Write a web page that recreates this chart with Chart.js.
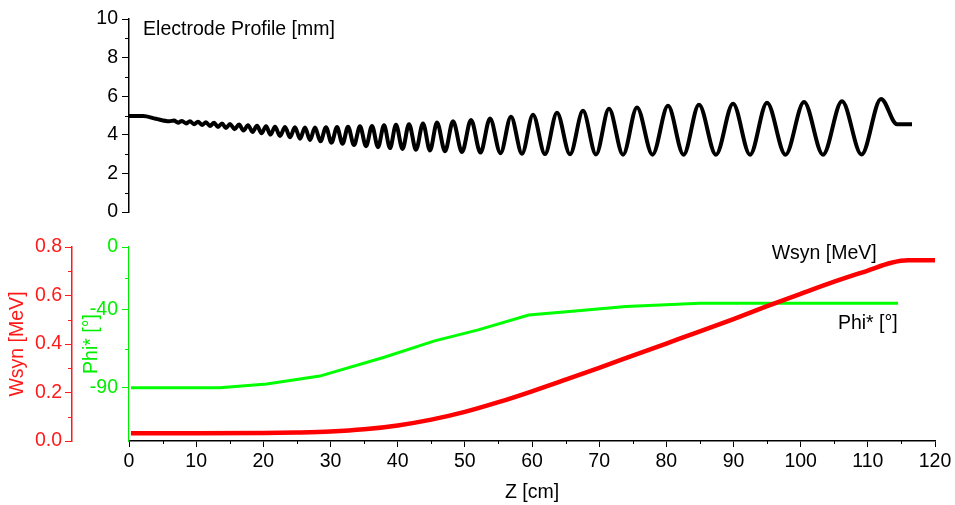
<!DOCTYPE html>
<html lang="en">
<head>
  <meta charset="UTF-8" />
  <title>Electrode Profile / Wsyn / Phi*</title>
  <script src="https://cdn.jsdelivr.net/npm/chart.js"></script>
  <style>
    body { margin: 0; background: #fff; }
    .wrap { position: relative; width: 955px; height: 505px; }
    .wrap canvas { position: absolute; left: 0; top: 0; }
  </style>
</head>
<body>
  <div class="wrap">
    <canvas id="profile" width="955" height="505"></canvas>
    <canvas id="beam" width="955" height="505"></canvas>
  </div>

  <script>
    // electrode profile: extrema (z in cm, radius in mm)
    const profileZ = [
      0, 2.1, 4.0, 6.0, 6.70, 7.30, 7.89, 8.49, 9.08, 9.68,
      10.27, 10.87, 11.46, 12.06, 12.66, 13.25, 13.85, 14.44, 15.04, 15.71,
      16.38, 17.05, 17.72, 18.39, 19.06, 19.73, 20.40, 21.07, 21.74, 22.48,
      23.23, 23.97, 24.71, 25.46, 26.20, 26.95, 27.69, 28.51, 29.33, 30.15,
      30.97, 31.79, 32.61, 33.50, 34.39, 35.29, 36.18, 37.07, 37.97, 38.86,
      39.75, 40.72, 41.69, 42.73, 43.77, 44.81, 45.86, 47.05, 48.24, 49.58,
      50.92, 52.33, 53.75, 55.31, 56.87, 58.51, 60.15, 61.93, 63.72, 65.66,
      67.59, 69.53, 71.46, 73.55, 75.63, 77.94, 80.25, 82.56, 84.86, 87.39,
      89.93, 92.46, 94.99, 97.74, 100.50, 103.32, 106.15, 109.06, 111.96, 114.34,
      116.58
    ];
    const profileMm = [
      4.97, 4.97, 4.83, 4.70, 4.74, 4.63, 4.72, 4.59, 4.70, 4.55,
      4.68, 4.51, 4.65, 4.46, 4.62, 4.41, 4.59, 4.35, 4.56, 4.29,
      4.53, 4.22, 4.50, 4.15, 4.47, 4.08, 4.44, 4.01, 4.42, 3.94,
      4.40, 3.87, 4.39, 3.80, 4.38, 3.73, 4.38, 3.66, 4.39, 3.59,
      4.40, 3.53, 4.42, 3.47, 4.44, 3.41, 4.46, 3.36, 4.49, 3.31,
      4.52, 3.27, 4.55, 3.23, 4.59, 3.19, 4.64, 3.15, 4.70, 3.11,
      4.77, 3.08, 4.85, 3.05, 4.94, 3.02, 5.04, 3.00, 5.14, 2.99,
      5.24, 2.98, 5.35, 2.97, 5.42, 2.97, 5.50, 2.97, 5.56, 2.97,
      5.61, 2.97, 5.66, 2.97, 5.70, 2.97, 5.74, 2.98, 5.86, 4.55,
      4.55
    ];

    // synchronous energy
    const wsynZ = [0.3, 10, 20, 25, 30, 35, 40, 45, 50, 55, 60, 65, 70, 75, 80, 85, 90, 95, 100, 105, 110, 113.5, 116, 120];
    const wsynMeV = [0.032, 0.032, 0.033, 0.035, 0.039, 0.048, 0.064, 0.088, 0.120, 0.160, 0.205, 0.253,
                     0.302, 0.352, 0.402, 0.452, 0.503, 0.556, 0.607, 0.657, 0.703, 0.735, 0.745, 0.745];

    // synchronous phase
    const phiZ = [0.3, 13.5, 20.5, 28.4, 38, 45.5, 52, 59.5, 66, 74, 85, 114.5];
    const phiDeg = [-90, -90, -87.5, -82.5, -70.5, -60, -53, -43.5, -41, -38, -36, -36];

    // ticks
    const profileMinor = [1, 3, 5, 7, 9];
    const zMinor = [5, 15, 25, 35, 45, 55, 65, 75, 85, 95, 105, 115];
    const wsynMinor = [0.1, 0.3, 0.5, 0.7];
    const phiTicks = [0, -40, -90];
    const phiMinor = [-20, -65];

    const RED = '#ff1a1a';
    const GREEN = '#00ee00';
    const FONT = { family: "'Liberation Sans', Arial, sans-serif", size: 19.5 };

    const pts = (xs, ys) => xs.map((x, i) => ({ x: x, y: ys[i] }));

    // short unlabeled ticks between the labeled ones
    function minorLayer(axes) {
      return {
        id: 'minorLayer',
        afterDraw(chart) {
          const ctx = chart.ctx;
          axes.forEach(a => {
            const s = chart.scales[a.id];
            ctx.save();
            ctx.strokeStyle = a.color;
            ctx.lineWidth = 1;
            ctx.beginPath();
            a.values.forEach(v => {
              const p = Math.round(s.getPixelForValue(v)) + 0.5;
              if (s.isHorizontal()) {
                ctx.moveTo(p, s.top);
                ctx.lineTo(p, s.top + a.len);
              } else {
                ctx.moveTo(s.right - a.len, p);
                ctx.lineTo(s.right, p);
              }
            });
            ctx.stroke();
            ctx.restore();
          });
        }
      };
    }

    // curve labels placed in data coordinates
    function noteLayer(items) {
      return {
        id: 'noteLayer',
        afterDraw(chart) {
          const ctx = chart.ctx;
          items.forEach(n => {
            ctx.save();
            ctx.font = FONT.size + 'px ' + FONT.family;
            ctx.fillStyle = n.color;
            ctx.textAlign = n.align;
            ctx.textBaseline = 'middle';
            ctx.fillText(n.text, chart.scales.x.getPixelForValue(n.x), chart.scales[n.axis].getPixelForValue(n.y));
            ctx.restore();
          });
        }
      };
    }

    new Chart(document.getElementById('profile'), {
      type: 'line',
      data: {
        datasets: [{
          data: pts(profileZ, profileMm),
          borderColor: '#000',
          borderWidth: 4,
          pointRadius: 0,
          cubicInterpolationMode: 'monotone',
          fill: false
        }]
      },
      options: {
        responsive: false,
        animation: false,
        devicePixelRatio: 1,
        layout: { padding: { left: 0, right: 20, top: 19, bottom: 293 } },
        plugins: { legend: { display: false }, tooltip: { enabled: false } },
        scales: {
          x: { type: 'linear', min: 0, max: 120, display: false },
          y: {
            min: 0, max: 10,
            ticks: { stepSize: 2, color: '#000', font: FONT, padding: 4 },
            grid: { drawOnChartArea: false, tickLength: 7, tickColor: '#000' },
            border: { color: '#000', width: 1.5 },
            afterFit(s) { s.width = 129; }
          }
        }
      },
      plugins: [
        minorLayer([{ id: 'y', values: profileMinor, len: 4, color: '#000' }]),
        noteLayer([{ text: 'Electrode Profile [mm]', x: 2.1, y: 9.43, axis: 'y', align: 'left', color: '#000' }])
      ]
    });

    new Chart(document.getElementById('beam'), {
      type: 'line',
      data: {
        datasets: [
          {
            label: 'Wsyn [MeV]',
            data: pts(wsynZ, wsynMeV),
            yAxisID: 'w',
            borderColor: '#ff0000',
            borderWidth: 4.5,
            pointRadius: 0,
            cubicInterpolationMode: 'monotone',
            fill: false
          },
          {
            label: 'Phi* [°]',
            data: pts(phiZ, phiDeg),
            yAxisID: 'p',
            borderColor: '#00ff00',
            borderWidth: 3,
            pointRadius: 0,
            tension: 0,
            fill: false
          }
        ]
      },
      options: {
        responsive: false,
        animation: false,
        devicePixelRatio: 1,
        layout: { padding: { left: 0, right: 20, top: 247, bottom: 0 } },
        plugins: { legend: { display: false }, tooltip: { enabled: false } },
        scales: {
          x: {
            type: 'linear', min: 0, max: 120, position: 'bottom',
            ticks: { stepSize: 10, color: '#000', font: FONT, padding: 3, maxRotation: 0 },
            grid: { drawOnChartArea: false, tickLength: 6, tickColor: '#000' },
            border: { color: '#000', width: 1.5 },
            title: { display: true, text: 'Z [cm]', color: '#000', font: FONT, padding: { top: 0, bottom: 0.3 } },
            afterFit(s) { s.height = 64; }
          },
          p: {
            position: 'left', weight: 0, min: -124, max: 0,
            afterBuildTicks(s) { s.ticks = phiTicks.map(v => ({ value: v })); },
            ticks: { color: GREEN, font: FONT, padding: 4 },
            grid: { drawOnChartArea: false, tickLength: 7, tickColor: GREEN },
            border: { color: GREEN, width: 1.2 },
            title: { display: true, text: 'Phi* [°]', color: GREEN, font: FONT, padding: { top: 8.3, bottom: 0 } },
            afterFit(s) { s.width = 57; }
          },
          w: {
            position: 'left', weight: 1, min: 0, max: 0.8,
            ticks: { stepSize: 0.2, color: RED, font: FONT, padding: 3, callback: v => v.toFixed(1) },
            grid: { drawOnChartArea: false, tickLength: 7, tickColor: RED },
            border: { color: RED, width: 1.5 },
            title: { display: true, text: 'Wsyn [MeV]', color: RED, font: FONT, padding: { top: 6.3, bottom: 0 } },
            afterFit(s) { s.width = 72; }
          }
        }
      },
      plugins: [
        minorLayer([
          { id: 'x', values: zMinor, len: 3, color: '#000' },
          { id: 'w', values: wsynMinor, len: 4, color: RED },
          { id: 'p', values: phiMinor, len: 4, color: GREEN }
        ]),
        noteLayer([
          { text: 'Wsyn [MeV]', x: 103.5, y: 0.771, axis: 'w', align: 'center', color: '#000' },
          { text: 'Phi* [°]', x: 110, y: -49.1, axis: 'p', align: 'center', color: '#000' }
        ])
      ]
    });
  </script>
</body>
</html>
